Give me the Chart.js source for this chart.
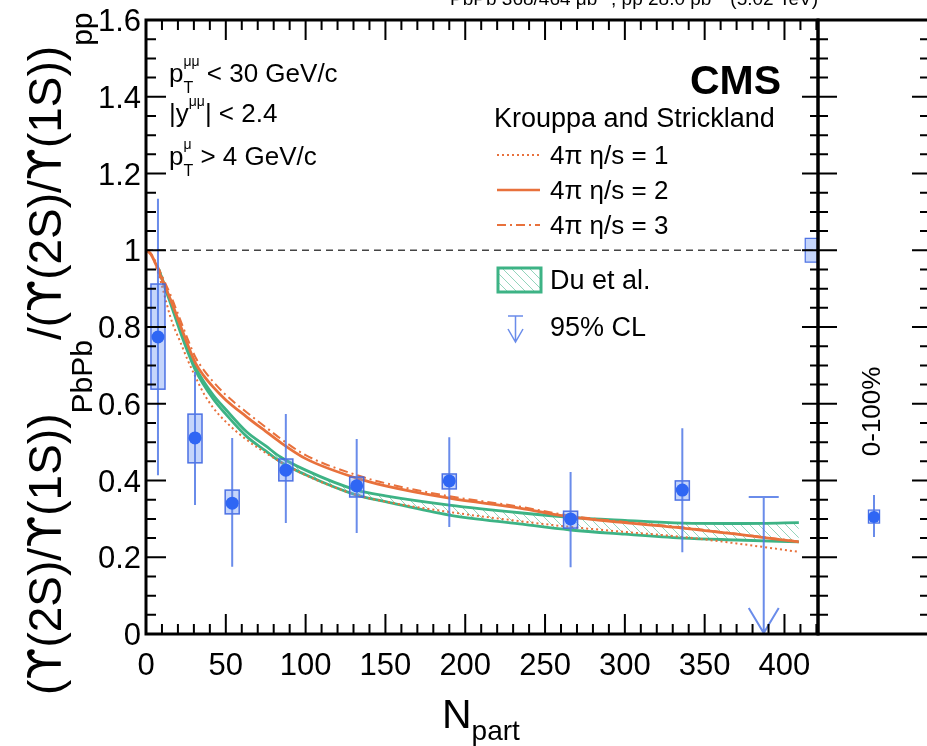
<!DOCTYPE html>
<html>
<head>
<meta charset="utf-8">
<script src="https://cdn.jsdelivr.net/npm/chart.js@4.4.1/dist/chart.umd.min.js"></script>
<style>
  html, body { margin: 0; padding: 0; background: #fff; overflow: hidden; width: 927px; height: 746px; }
  #main { position: absolute; left: 0; top: 0; }
  #side { position: absolute; left: 790px; top: 0; }
</style>
</head>
<body>
<canvas id="main" width="927" height="746"></canvas>
<canvas id="side" width="150" height="746"></canvas>
<script>
// ---- Measured double ratio vs N_part ----
const nPart    = [7.5, 30.7, 54, 87.6, 132, 190, 266, 336];
const ratio    = [0.774, 0.511, 0.341, 0.427, 0.386, 0.399, 0.300, 0.375];
const statHigh = [1.134, 0.683, 0.511, 0.573, 0.508, 0.513, 0.422, 0.536];
const statLow  = [0.414, 0.336, 0.175, 0.289, 0.263, 0.279, 0.174, 0.213];
const systHigh = [0.912, 0.573, 0.375, 0.456, 0.409, 0.417, 0.320, 0.399];
const systLow  = [0.638, 0.446, 0.313, 0.399, 0.357, 0.378, 0.276, 0.349];

// 95% CL upper limit in the most central bin
const limitNpart = 387;
const limitValue = 0.357;

// global uncertainty box drawn at unity
const globalRange = [0.969, 1.031];
const globalNpart = [413, 421];

// centrality-integrated (0-100%) result
const intRatio = 0.305;
const intStat  = [0.253, 0.362];
const intSyst  = [0.289, 0.323];

// ---- Model curves ----
// Krouppa and Strickland, 4pi eta/s = 1, 2, 3
const ksNpart = [0, 3, 6, 9, 12, 15, 18, 21, 26, 31, 36, 42, 50, 63, 75, 84, 100, 132, 150, 190, 234, 266, 300, 336, 370, 409];
const ksEta1  = [1.0, 0.990, 0.962, 0.922, 0.876, 0.830, 0.795, 0.766, 0.715, 0.670, 0.628, 0.590, 0.553, 0.506, 0.472, 0.449, 0.414, 0.362, 0.345, 0.318, 0.294, 0.279, 0.266, 0.253, 0.236, 0.214];
const ksEta2  = [1.0, 0.990, 0.965, 0.935, 0.905, 0.875, 0.843, 0.810, 0.755, 0.706, 0.674, 0.644, 0.610, 0.566, 0.528, 0.500, 0.457, 0.406, 0.386, 0.354, 0.328, 0.305, 0.290, 0.276, 0.260, 0.240];
const ksEta3  = [1.0, 0.992, 0.970, 0.943, 0.915, 0.887, 0.856, 0.824, 0.770, 0.721, 0.689, 0.658, 0.623, 0.578, 0.539, 0.510, 0.466, 0.414, 0.393, 0.359, 0.332, 0.308, 0.292, 0.278, 0.261, 0.241];
// Du et al. band
const duNpart = [8, 12, 15, 21, 26, 31, 42, 50, 63, 75, 84, 100, 132, 150, 190, 234, 266, 300, 336, 370, 409];
const duHigh  = [0.950, 0.905, 0.872, 0.800, 0.745, 0.695, 0.623, 0.585, 0.527, 0.490, 0.462, 0.427, 0.375, 0.360, 0.336, 0.316, 0.304, 0.296, 0.289, 0.288, 0.290];
const duLow   = [0.950, 0.900, 0.866, 0.793, 0.737, 0.687, 0.613, 0.573, 0.515, 0.477, 0.449, 0.415, 0.362, 0.345, 0.310, 0.287, 0.271, 0.260, 0.250, 0.245, 0.240];

// ---- Axis ticks ----
const xTicks = [0, 50, 100, 150, 200, 250, 300, 350, 400];
const xTickLabels = ['0', '50', '100', '150', '200', '250', '300', '350', '400'];
const yTicks = [0, 0.2, 0.4, 0.6, 0.8, 1.0, 1.2, 1.4, 1.6];
const yTickLabels = ['0', '0.2', '0.4', '0.6', '0.8', '1', '1.2', '1.4', '1.6'];
const xMinorStep = 10, yMinorStep = 0.05;
const unityLine = [0, 421];

// ---- Styles ----
const FONT = "'Liberation Sans', Arial, Helvetica, sans-serif";
const GREEKFONT = "'DejaVu Sans', 'Liberation Sans', sans-serif";
const ORANGE = '#e8713c';
const GREEN = '#3db385';
const BLUE = '#2f66f4';
const BAR = 'rgba(80,120,230,0.85)';
const BOX_FILL = 'rgba(110,150,245,0.40)';
const BOX_EDGE = 'rgba(60,100,225,0.9)';
const BOX_HALF = 4.4;      // N_part units
const SIDE_HALF = 0.05;    // side-panel units

function hatchPattern() {
  const c = document.createElement('canvas');
  c.width = 9; c.height = 9;
  const g = c.getContext('2d');
  g.strokeStyle = 'rgba(61,179,133,0.55)';
  g.lineWidth = 1;
  g.beginPath();
  g.moveTo(-1, -1); g.lineTo(10, 10);
  g.moveTo(-1, 8); g.lineTo(1, 10);
  g.moveTo(8, -1); g.lineTo(10, 1);
  g.stroke();
  return g.createPattern(c, 'repeat');
}
const HATCH = hatchPattern();

const xy = (xs, ys) => xs.map((x, i) => ({ x: x, y: ys[i] }));

function fontOf(r) { return (r.bold ? 'bold ' : '') + r.s + 'px ' + (r.f || FONT); }
function runWidth(ctx, runs) {
  let w = 0, keepW = 0;
  for (const r of runs) {
    ctx.font = fontOf(r);
    const m = ctx.measureText(r.t).width;
    if (r.keep) keepW = m; else { w += Math.max(m, keepW); keepW = 0; }
  }
  return w;
}
function drawRuns(ctx, x, y, runs) {
  let cx = x, keepW = 0;
  ctx.textAlign = 'left';
  ctx.textBaseline = 'alphabetic';
  for (const r of runs) {
    ctx.font = fontOf(r);
    ctx.fillText(r.t, cx, y + (r.dy || 0));
    const m = ctx.measureText(r.t).width;
    if (r.keep) keepW = m; else { cx += Math.max(m, keepW); keepW = 0; }
  }
}
// plain text with the upsilon symbol set in a font that has the hooked form
function upsRuns(text, size, dy) {
  return text.split(/(ϒ)/).filter(s => s.length).map(s =>
    s === 'ϒ' ? { t: s, s: size, dy: dy, f: GREEKFONT } : { t: s, s: size, dy: dy });
}

function line(ctx, x0, y0, x1, y1) { ctx.moveTo(x0, y0); ctx.lineTo(x1, y1); }

function yTickMarks(ctx, yScale, x, dir, maj, min) {
  const n = Math.round((yTicks[yTicks.length - 1] - yTicks[0]) / yMinorStep);
  for (let k = 0; k <= n; k++) {
    const v = yTicks[0] + k * yMinorStep;
    const py = yScale.getPixelForValue(v);
    const len = (k % 4 === 0) ? maj : min;
    line(ctx, x, py, x + dir * len, py);
  }
}

// error bars, systematic boxes, limit arrow and global box
function drawUncertainties(chart) {
  const { ctx, scales: { x, y } } = chart;
  ctx.save();
  ctx.lineWidth = 1.5;
  for (let i = 0; i < nPart.length; i++) {
    const x0 = x.getPixelForValue(nPart[i] - BOX_HALF), x1 = x.getPixelForValue(nPart[i] + BOX_HALF);
    const y0 = y.getPixelForValue(systHigh[i]), y1 = y.getPixelForValue(systLow[i]);
    ctx.fillStyle = BOX_FILL;
    ctx.fillRect(x0, y0, x1 - x0, y1 - y0);
    ctx.strokeStyle = BOX_EDGE;
    ctx.strokeRect(x0, y0, x1 - x0, y1 - y0);
  }
  ctx.strokeStyle = BAR;
  ctx.lineWidth = 2;
  ctx.beginPath();
  for (let i = 0; i < nPart.length; i++) {
    const px = x.getPixelForValue(nPart[i]);
    line(ctx, px, y.getPixelForValue(statHigh[i]), px, y.getPixelForValue(statLow[i]));
  }
  ctx.stroke();
  // upper limit arrow
  const lx = x.getPixelForValue(limitNpart);
  const ly = y.getPixelForValue(limitValue);
  const l0 = y.getPixelForValue(0);
  ctx.beginPath();
  line(ctx, lx, ly, lx, l0);
  line(ctx, lx - 15, ly, lx + 15, ly);
  ctx.moveTo(lx - 15, l0 - 26); ctx.lineTo(lx, l0 - 1); ctx.lineTo(lx + 15, l0 - 26);
  ctx.stroke();
  // global uncertainty at unity
  const gx0 = x.getPixelForValue(globalNpart[0]), gx1 = x.getPixelForValue(globalNpart[1]);
  const gy0 = y.getPixelForValue(globalRange[1]), gy1 = y.getPixelForValue(globalRange[0]);
  ctx.fillStyle = BOX_FILL;
  ctx.fillRect(gx0, gy0, gx1 - gx0, gy1 - gy0);
  ctx.strokeStyle = BOX_EDGE;
  ctx.lineWidth = 1.2;
  ctx.strokeRect(gx0, gy0, gx1 - gx0, gy1 - gy0);
  ctx.restore();
}

function drawMainDecor(chart) {
  const { ctx, chartArea: a, scales: { x, y } } = chart;
  ctx.save();
  ctx.fillStyle = '#000';
  ctx.strokeStyle = '#000';

  // ticks
  ctx.lineWidth = 2;
  ctx.beginPath();
  yTickMarks(ctx, y, a.left, 1, 20, 10);
  yTickMarks(ctx, y, a.right, -1, 16, 8);
  const nx = Math.round(x.max / xMinorStep);
  for (let k = 0; k <= nx; k++) {
    const v = k * xMinorStep;
    if (v > x.max) break;
    const px = x.getPixelForValue(v);
    const len = (v % 50 === 0) ? 20 : 10;
    line(ctx, px, a.bottom, px, a.bottom - len);
    line(ctx, px, a.top, px, a.top + len);
  }
  ctx.stroke();

  // frame
  ctx.lineWidth = 3;
  ctx.strokeRect(a.left, a.top, a.right - a.left, a.bottom - a.top);

  // tick labels
  ctx.font = '31px ' + FONT;
  ctx.textAlign = 'right';
  ctx.textBaseline = 'alphabetic';
  yTicks.forEach((v, i) => ctx.fillText(yTickLabels[i], a.left - 5, y.getPixelForValue(v) + 11));
  ctx.textAlign = 'center';
  xTicks.forEach((v, i) => ctx.fillText(xTickLabels[i], x.getPixelForValue(v), a.bottom + 41));

  // x title
  drawRuns(ctx, 442, 728, [{ t: 'N', s: 41 }, { t: 'part', s: 28, dy: 12 }]);

  // y title
  ctx.save();
  ctx.translate(61, 695);
  ctx.rotate(-Math.PI / 2);
  drawRuns(ctx, 0, 0, [].concat(
    upsRuns('(ϒ(2S)/ϒ(1S))', 46, 0),
    [{ t: 'PbPb', s: 30, dy: 31 }],
    upsRuns('/(ϒ(2S)/ϒ(1S))', 46, 0),
    [{ t: 'pp', s: 30, dy: 31 }]
  ));
  ctx.restore();

  // luminosity line at the top
  const lumi = [
    { t: 'PbPb 368/464 μb', s: 19 }, { t: '−1', s: 12, dy: -9 },
    { t: ', pp 28.0 pb', s: 19 }, { t: '−1', s: 12, dy: -9 },
    { t: ' (5.02 TeV)', s: 19 }
  ];
  drawRuns(ctx, a.right - runWidth(ctx, lumi), 5, lumi);

  // kinematic selection
  drawRuns(ctx, 169, 82, [{ t: 'p', s: 26 }, { t: 'μμ', s: 14, dy: -16, keep: true }, { t: 'T', s: 16, dy: 11 }, { t: ' < 30 GeV/c', s: 26 }]);
  drawRuns(ctx, 169, 122, [{ t: '|y', s: 26 }, { t: 'μμ', s: 14, dy: -16 }, { t: '| < 2.4', s: 26 }]);
  drawRuns(ctx, 169, 165, [{ t: 'p', s: 26 }, { t: 'μ', s: 14, dy: -16, keep: true }, { t: 'T', s: 16, dy: 11 }, { t: ' > 4 GeV/c', s: 26 }]);

  // CMS label
  ctx.font = 'bold 41px ' + FONT;
  ctx.textAlign = 'right';
  ctx.fillText('CMS', 781, 94);

  // legend
  ctx.font = '27px ' + FONT;
  ctx.textAlign = 'left';
  ctx.fillText('Krouppa and Strickland', 494, 127);
  const rows = [
    { y: 155, dash: [2, 3], w: 2, label: '4π η/s = 1' },
    { y: 190, dash: [], w: 2.5, label: '4π η/s = 2' },
    { y: 225, dash: [9, 4, 2, 4], w: 2, label: '4π η/s = 3' }
  ];
  ctx.font = '26px ' + FONT;
  rows.forEach(r => {
    ctx.save();
    ctx.strokeStyle = ORANGE;
    ctx.lineWidth = r.w;
    ctx.setLineDash(r.dash);
    ctx.beginPath(); line(ctx, 497, r.y, 540, r.y); ctx.stroke();
    ctx.restore();
    ctx.fillText(r.label, 550, r.y + 9);
  });
  // Du et al. swatch
  ctx.fillStyle = HATCH;
  ctx.fillRect(498, 268, 43, 24);
  ctx.strokeStyle = GREEN;
  ctx.lineWidth = 3;
  ctx.strokeRect(498, 268, 43, 24);
  ctx.fillStyle = '#000';
  ctx.font = '27px ' + FONT;
  ctx.fillText('Du et al.', 550, 289);
  // upper-limit swatch
  ctx.strokeStyle = BAR;
  ctx.lineWidth = 1.5;
  ctx.beginPath();
  line(ctx, 508, 316, 523, 316);
  line(ctx, 515.5, 316, 515.5, 342);
  ctx.moveTo(508, 329); ctx.lineTo(515.5, 342); ctx.lineTo(523, 329);
  ctx.stroke();
  ctx.fillStyle = '#000';
  ctx.fillText('95% CL', 550, 336);

  ctx.restore();
}

const mainDecor = {
  id: 'mainDecor',
  beforeDatasetDraw(chart, args) { if (args.index === 0) drawUncertainties(chart); },
  afterDraw(chart) { drawMainDecor(chart); }
};

const curve = (data, color, width, dash, order) => ({
  data: data, borderColor: color, borderWidth: width, borderDash: dash,
  pointRadius: 0, showLine: true, fill: false, cubicInterpolationMode: 'monotone', order: order
});

new Chart(document.getElementById('main'), {
  type: 'line',
  data: {
    datasets: [
      { data: xy(nPart, ratio), showLine: false, pointRadius: 6.5, pointBackgroundColor: BLUE, pointBorderWidth: 0, order: 0 },
      curve(xy(ksNpart, ksEta1), ORANGE, 2, [2, 3], 2),
      curve(xy(ksNpart, ksEta2), ORANGE, 2.8, [], 1),
      curve(xy(ksNpart, ksEta3), ORANGE, 2, [9, 4, 2, 4], 1),
      Object.assign(curve(xy(duNpart, duHigh), GREEN, 2.8, [], 3), { fill: '+1', backgroundColor: HATCH }),
      curve(xy(duNpart, duLow), GREEN, 2.8, [], 3),
      Object.assign(curve(xy(unityLine, [1, 1]), '#444', 1.5, [7, 5], 4), { cubicInterpolationMode: 'default' })
    ]
  },
  options: {
    responsive: false,
    animation: false,
    events: [],
    layout: { padding: { left: 146, top: 20, right: 109, bottom: 112 } },
    plugins: { legend: { display: false }, tooltip: { enabled: false } },
    scales: {
      x: { type: 'linear', min: 0, max: 421, display: false },
      y: { type: 'linear', min: 0, max: 1.6, display: false }
    }
  },
  plugins: [mainDecor]
});

// ---- centrality-integrated panel ----
const sideDecor = {
  id: 'sideDecor',
  beforeDatasetDraw(chart) {
    const { ctx, scales: { x, y } } = chart;
    ctx.save();
    const x0 = x.getPixelForValue(0.5 - SIDE_HALF), x1 = x.getPixelForValue(0.5 + SIDE_HALF);
    const y0 = y.getPixelForValue(intSyst[1]), y1 = y.getPixelForValue(intSyst[0]);
    ctx.fillStyle = BOX_FILL;
    ctx.fillRect(x0, y0, x1 - x0, y1 - y0);
    ctx.strokeStyle = BOX_EDGE;
    ctx.lineWidth = 1.2;
    ctx.strokeRect(x0, y0, x1 - x0, y1 - y0);
    ctx.strokeStyle = BAR;
    ctx.lineWidth = 2;
    ctx.beginPath();
    const px = x.getPixelForValue(0.5);
    line(ctx, px, y.getPixelForValue(intStat[1]), px, y.getPixelForValue(intStat[0]));
    ctx.stroke();
    ctx.restore();
  },
  afterDraw(chart) {
    const { ctx, chartArea: a, scales: { y } } = chart;
    ctx.save();
    ctx.strokeStyle = '#000';
    ctx.lineWidth = 2;
    ctx.beginPath();
    yTickMarks(ctx, y, a.left, 1, 19, 10);
    yTickMarks(ctx, y, a.right, -1, 18, 10);
    ctx.stroke();
    ctx.lineWidth = 3;
    ctx.strokeRect(a.left, a.top, a.right - a.left, a.bottom - a.top);
    ctx.fillStyle = '#000';
    ctx.translate((a.left + a.right) / 2 + 6, y.getPixelForValue(0.58));
    ctx.rotate(-Math.PI / 2);
    ctx.font = '26px ' + FONT;
    ctx.textAlign = 'center';
    ctx.textBaseline = 'alphabetic';
    ctx.fillText('0-100%', 0, 0);
    ctx.restore();
  }
};

new Chart(document.getElementById('side'), {
  type: 'line',
  data: {
    datasets: [
      { data: [{ x: 0.5, y: intRatio }], showLine: false, pointRadius: 6, pointBackgroundColor: BLUE, pointBorderWidth: 0 }
    ]
  },
  options: {
    responsive: false,
    animation: false,
    events: [],
    layout: { padding: { left: 28, top: 20, right: 10, bottom: 112 } },
    plugins: { legend: { display: false }, tooltip: { enabled: false } },
    scales: {
      x: { type: 'linear', min: 0, max: 1, display: false },
      y: { type: 'linear', min: 0, max: 1.6, display: false }
    }
  },
  plugins: [sideDecor]
});
</script>
</body>
</html>
